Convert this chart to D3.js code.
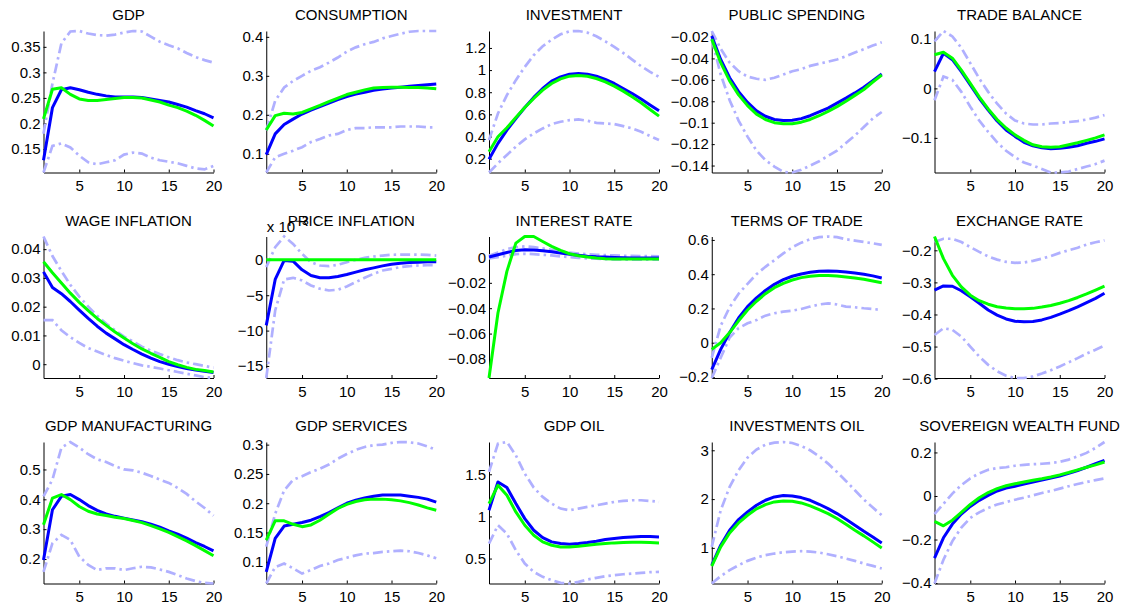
<!DOCTYPE html>
<html>
<head>
<meta charset="utf-8">
<script src="https://cdn.jsdelivr.net/npm/d3@7"></script>
<style>
  body { margin: 0; background: #fff; }
  svg { display: block; }
  text { font-family: "Liberation Sans", Arial, Helvetica, sans-serif; font-size: 15px; fill: #000; }
</style>
</head>
<body>
<svg id="chart" width="1131" height="607"></svg>
<script>
// Impulse responses over a 20-quarter horizon
const horizons = d3.range(1, 21);

const titles = [
  "GDP", "CONSUMPTION", "INVESTMENT", "PUBLIC SPENDING", "TRADE BALANCE",
  "WAGE INFLATION", "PRICE INFLATION", "INTEREST RATE", "TERMS OF TRADE", "EXCHANGE RATE",
  "GDP MANUFACTURING", "GDP SERVICES", "GDP OIL", "INVESTMENTS OIL", "SOVEREIGN WEALTH FUND"
];

const xTicks = [5, 10, 15, 20];

const yTicks = [
  [0.15, 0.2, 0.25, 0.3, 0.35],
  [0.1, 0.2, 0.3, 0.4],
  [0.2, 0.4, 0.6, 0.8, 1, 1.2],
  [-0.14, -0.12, -0.1, -0.08, -0.06, -0.04, -0.02],
  [-0.1, 0, 0.1],
  [0, 0.01, 0.02, 0.03, 0.04],
  [-0.015, -0.01, -0.005, 0],
  [-0.08, -0.06, -0.04, -0.02, 0],
  [-0.2, 0, 0.2, 0.4, 0.6],
  [-0.6, -0.5, -0.4, -0.3, -0.2],
  [0.2, 0.3, 0.4, 0.5],
  [0.1, 0.15, 0.2, 0.25, 0.3],
  [0.5, 1, 1.5],
  [1, 2, 3],
  [-0.4, -0.2, 0, 0.2]
];

// power of ten factored out of the tick labels (0 = none)
const tickExponent = [0, 0, 0, 0, 0, 0, -3, 0, 0, 0, 0, 0, 0, 0, 0];

// median response of the estimated model (blue)
const median = [
  [0.128,0.231,0.266,0.270,0.266,0.261,0.257,0.254,0.252,0.252,0.252,0.251,0.248,0.245,0.242,0.237,0.232,0.225,0.219,0.211],
  [0.098,0.151,0.175,0.189,0.202,0.212,0.221,0.230,0.239,0.247,0.253,0.258,0.263,0.266,0.269,0.271,0.273,0.275,0.277,0.279],
  [0.194,0.338,0.458,0.563,0.662,0.753,0.834,0.900,0.939,0.963,0.969,0.963,0.945,0.915,0.879,0.834,0.789,0.738,0.684,0.632],
  [-0.019,-0.041,-0.058,-0.071,-0.081,-0.089,-0.094,-0.097,-0.098,-0.0978,-0.0962,-0.0935,-0.090,-0.0864,-0.0817,-0.0771,-0.0722,-0.0669,-0.0607,-0.0546],
  [0.034,0.071,0.058,0.034,0.007,-0.020,-0.044,-0.066,-0.084,-0.097,-0.109,-0.116,-0.120,-0.122,-0.121,-0.119,-0.116,-0.111,-0.107,-0.102],
  [0.0321,0.0267,0.0245,0.0218,0.0188,0.0159,0.0132,0.0108,0.0088,0.0068,0.0051,0.0035,0.0021,0.0009,0.0000,-0.0008,-0.0015,-0.0020,-0.0025,-0.0029],
  [-0.00926,-0.00277,-0.00009,-0.00019,-0.00141,-0.00221,-0.00254,-0.00254,-0.00235,-0.00207,-0.00174,-0.00141,-0.00113,-0.00085,-0.00061,-0.00047,-0.00038,-0.00033,-0.00028,-0.00028],
  [0.0003,0.0021,0.0039,0.0055,0.0060,0.0058,0.0052,0.0045,0.0034,0.0026,0.0018,0.0010,0.0005,0.0003,0.0000,-0.0003,-0.0005,-0.0005,-0.0005,-0.0005],
  [-0.157,-0.039,0.059,0.144,0.211,0.262,0.305,0.341,0.368,0.388,0.401,0.411,0.417,0.419,0.417,0.413,0.407,0.400,0.390,0.378],
  [-0.324,-0.311,-0.312,-0.326,-0.345,-0.365,-0.386,-0.402,-0.414,-0.421,-0.423,-0.422,-0.417,-0.409,-0.399,-0.388,-0.376,-0.363,-0.350,-0.334],
  [0.197,0.365,0.410,0.416,0.399,0.379,0.363,0.351,0.343,0.337,0.331,0.325,0.317,0.307,0.294,0.283,0.270,0.255,0.242,0.227],
  [0.083,0.140,0.161,0.164,0.167,0.171,0.177,0.184,0.192,0.200,0.205,0.209,0.212,0.214,0.214,0.214,0.212,0.210,0.207,0.202],
  [1.073,1.409,1.342,1.152,0.974,0.836,0.749,0.698,0.678,0.670,0.678,0.690,0.706,0.725,0.737,0.749,0.757,0.761,0.761,0.757],
  [0.645,1.055,1.362,1.580,1.737,1.874,1.976,2.044,2.072,2.065,2.031,1.976,1.894,1.805,1.703,1.587,1.464,1.341,1.225,1.102],
  [-0.285,-0.192,-0.129,-0.083,-0.048,-0.020,0.003,0.023,0.036,0.045,0.055,0.064,0.073,0.083,0.092,0.104,0.117,0.132,0.148,0.164]
];

// response under the alternative specification (green)
const alternative = [
  [0.209,0.267,0.270,0.257,0.248,0.245,0.245,0.247,0.249,0.251,0.251,0.250,0.246,0.242,0.236,0.231,0.224,0.216,0.206,0.195],
  [0.161,0.198,0.204,0.202,0.206,0.215,0.224,0.234,0.243,0.252,0.258,0.264,0.269,0.270,0.271,0.271,0.270,0.270,0.269,0.267],
  [0.263,0.398,0.479,0.572,0.662,0.744,0.819,0.879,0.921,0.945,0.951,0.945,0.924,0.894,0.855,0.810,0.759,0.705,0.644,0.584],
  [-0.022,-0.044,-0.061,-0.074,-0.084,-0.092,-0.097,-0.100,-0.101,-0.101,-0.0995,-0.097,-0.0935,-0.0895,-0.085,-0.080,-0.0745,-0.069,-0.062,-0.0555],
  [0.068,0.073,0.061,0.037,0.010,-0.017,-0.0415,-0.063,-0.080,-0.094,-0.105,-0.114,-0.118,-0.119,-0.118,-0.114,-0.110,-0.105,-0.100,-0.094],
  [0.0356,0.0318,0.0282,0.0247,0.0215,0.0186,0.0159,0.0135,0.0112,0.0091,0.0071,0.0053,0.0038,0.0024,0.0009,-0.0002,-0.0011,-0.0018,-0.0022,-0.0027],
  [0.00003,0.00003,0.00002,0.00002,0.00002,0.00001,0.00001,0.00001,0.00001,0.00001,0,0,0,0,0,0,0,0,0,0],
  [-0.0950,-0.0438,-0.0110,0.0113,0.0165,0.0165,0.0126,0.0087,0.0055,0.0029,0.0013,0.0003,-0.0005,-0.0010,-0.0013,-0.0013,-0.0013,-0.0013,-0.0013,-0.0013],
  [-0.039,0.000,0.059,0.128,0.191,0.242,0.286,0.321,0.346,0.366,0.380,0.388,0.392,0.392,0.390,0.384,0.378,0.370,0.360,0.350],
  [-0.157,-0.226,-0.278,-0.314,-0.340,-0.357,-0.368,-0.376,-0.380,-0.382,-0.382,-0.381,-0.377,-0.372,-0.365,-0.357,-0.347,-0.336,-0.324,-0.312],
  [0.315,0.404,0.416,0.399,0.376,0.360,0.351,0.346,0.340,0.336,0.329,0.322,0.312,0.301,0.289,0.275,0.261,0.245,0.228,0.211],
  [0.137,0.170,0.170,0.164,0.160,0.163,0.171,0.181,0.191,0.198,0.203,0.206,0.207,0.207,0.206,0.204,0.201,0.197,0.192,0.188],
  [1.152,1.370,1.251,1.053,0.895,0.777,0.698,0.658,0.638,0.638,0.646,0.658,0.670,0.678,0.686,0.690,0.694,0.694,0.690,0.686],
  [0.625,1.020,1.307,1.512,1.669,1.799,1.887,1.942,1.962,1.956,1.921,1.860,1.785,1.703,1.601,1.485,1.362,1.246,1.123,1.000],
  [-0.117,-0.137,-0.111,-0.075,-0.039,-0.008,0.016,0.034,0.047,0.056,0.064,0.072,0.079,0.087,0.097,0.108,0.120,0.132,0.143,0.156]
];

// upper and lower bounds of the credible band (light blue, dash-dot)
const bandUpper = [
  [0.180,0.278,0.357,0.380,0.381,0.376,0.373,0.372,0.374,0.378,0.381,0.380,0.370,0.360,0.353,0.347,0.338,0.330,0.324,0.319],
  [0.160,0.236,0.270,0.287,0.300,0.313,0.322,0.334,0.347,0.362,0.373,0.381,0.387,0.396,0.402,0.408,0.413,0.415,0.415,0.415],
  [0.368,0.608,0.774,0.909,1.029,1.134,1.215,1.275,1.323,1.350,1.353,1.338,1.305,1.260,1.209,1.155,1.095,1.035,0.984,0.939],
  [-0.0144,-0.031,-0.044,-0.052,-0.057,-0.059,-0.060,-0.058,-0.055,-0.052,-0.050,-0.047,-0.045,-0.043,-0.041,-0.038,-0.0345,-0.0314,-0.028,-0.025],
  [0.095,0.116,0.105,0.082,0.051,0.020,-0.007,-0.031,-0.051,-0.065,-0.071,-0.073,-0.073,-0.071,-0.070,-0.068,-0.066,-0.063,-0.059,-0.054],
  [0.0444,0.0376,0.0324,0.0276,0.0235,0.0200,0.0168,0.0141,0.0118,0.0096,0.0079,0.0061,0.0047,0.0035,0.0024,0.0014,0.0006,0.0000,-0.0006,-0.0012],
  [-0.00103,0.00179,0.00330,0.00226,0.00085,-0.00033,-0.00080,-0.00089,-0.00071,-0.00033,0.00000,0.00028,0.00047,0.00061,0.00071,0.00075,0.00075,0.00075,0.00071,0.00061],
  [0.0013,0.0039,0.0066,0.0081,0.0087,0.0081,0.0071,0.0060,0.0047,0.0039,0.0031,0.0026,0.0021,0.0018,0.0016,0.0013,0.0013,0.0010,0.0010,0.0008],
  [-0.088,0.099,0.207,0.286,0.344,0.400,0.443,0.482,0.521,0.557,0.584,0.604,0.616,0.620,0.616,0.604,0.596,0.588,0.580,0.571],
  [-0.174,-0.164,-0.164,-0.174,-0.190,-0.205,-0.219,-0.229,-0.236,-0.239,-0.238,-0.233,-0.226,-0.218,-0.208,-0.200,-0.192,-0.182,-0.175,-0.169],
  [0.410,0.466,0.573,0.592,0.573,0.551,0.534,0.525,0.511,0.500,0.497,0.489,0.478,0.466,0.455,0.438,0.418,0.393,0.371,0.345],
  [0.126,0.182,0.222,0.240,0.246,0.253,0.259,0.266,0.276,0.284,0.291,0.296,0.299,0.300,0.303,0.3045,0.304,0.302,0.297,0.291],
  [1.528,1.864,1.883,1.725,1.508,1.342,1.231,1.152,1.093,1.073,1.093,1.113,1.132,1.152,1.172,1.184,1.192,1.192,1.184,1.172],
  [1.020,1.771,2.249,2.590,2.850,3.014,3.116,3.157,3.170,3.150,3.089,3.000,2.877,2.727,2.556,2.372,2.181,1.990,1.826,1.669],
  [-0.083,-0.036,0.011,0.050,0.081,0.104,0.120,0.128,0.132,0.139,0.143,0.146,0.148,0.151,0.157,0.167,0.182,0.198,0.221,0.248]
];

const bandLower = [
  [0.104,0.156,0.161,0.153,0.137,0.124,0.120,0.124,0.128,0.139,0.143,0.141,0.133,0.128,0.125,0.122,0.117,0.112,0.110,0.117],
  [0.052,0.091,0.100,0.108,0.117,0.130,0.138,0.147,0.151,0.161,0.166,0.166,0.168,0.168,0.168,0.170,0.170,0.170,0.168,0.168],
  [0.075,0.158,0.233,0.308,0.374,0.428,0.473,0.512,0.533,0.548,0.554,0.542,0.524,0.518,0.512,0.494,0.473,0.443,0.404,0.368],
  [-0.022,-0.055,-0.079,-0.098,-0.113,-0.126,-0.135,-0.141,-0.146,-0.1465,-0.144,-0.140,-0.136,-0.131,-0.126,-0.119,-0.112,-0.104,-0.096,-0.090],
  [-0.024,0.024,0.017,-0.007,-0.037,-0.065,-0.088,-0.109,-0.126,-0.139,-0.150,-0.156,-0.163,-0.170,-0.170,-0.168,-0.163,-0.158,-0.153,-0.146],
  [0.0153,0.0153,0.0118,0.0094,0.0074,0.0056,0.0044,0.0032,0.0021,0.0012,0.0004,-0.0004,-0.0009,-0.0015,-0.0021,-0.0027,-0.0033,-0.0039,-0.0045,-0.0048],
  [-0.0167,-0.00715,-0.00277,-0.00254,-0.00291,-0.00362,-0.00409,-0.00433,-0.00423,-0.00376,-0.00315,-0.00254,-0.00197,-0.00150,-0.00127,-0.00103,-0.00089,-0.00080,-0.00075,-0.00075],
  [-0.0008,0.0003,0.0013,0.0026,0.0029,0.0026,0.0021,0.0016,0.0008,0.0003,-0.0003,-0.0008,-0.0010,-0.0013,-0.0016,-0.0016,-0.0018,-0.0018,-0.0018,-0.0018],
  [-0.206,-0.088,0.030,0.085,0.113,0.132,0.158,0.172,0.181,0.187,0.197,0.211,0.223,0.230,0.223,0.211,0.207,0.201,0.197,0.191],
  [-0.464,-0.443,-0.448,-0.469,-0.500,-0.531,-0.557,-0.577,-0.591,-0.598,-0.598,-0.593,-0.584,-0.574,-0.562,-0.549,-0.536,-0.522,-0.510,-0.497],
  [0.157,0.253,0.281,0.264,0.208,0.180,0.163,0.169,0.169,0.163,0.169,0.174,0.172,0.165,0.157,0.146,0.135,0.126,0.120,0.118],
  [0.063,0.091,0.097,0.089,0.080,0.086,0.093,0.097,0.103,0.107,0.111,0.114,0.115,0.117,0.118,0.119,0.118,0.115,0.111,0.106],
  [0.678,0.895,0.796,0.599,0.441,0.342,0.283,0.243,0.211,0.204,0.223,0.251,0.271,0.290,0.302,0.314,0.322,0.330,0.338,0.342],
  [0.270,0.420,0.543,0.645,0.734,0.802,0.850,0.884,0.911,0.925,0.932,0.925,0.904,0.870,0.829,0.782,0.734,0.679,0.631,0.577],
  [-0.402,-0.293,-0.207,-0.145,-0.101,-0.075,-0.055,-0.039,-0.028,-0.017,-0.008,0.003,0.014,0.023,0.034,0.045,0.055,0.064,0.073,0.081]
];

// ---- layout: 3 x 5 grid of small axes ----
const svg = d3.select("#chart");
const plotW = 170, plotH = 141.5;
const colLeft = c => 43.5 + c * 222.75;
const rowTop = [31, 236.5, 442];

const fmt = d3.format("~g");

titles.forEach((title, i) => {
  const col = i % 5, row = Math.floor(i / 5);
  const g = svg.append("g").attr("transform", `translate(${colLeft(col)},${rowTop[row]})`);

  const series = [bandLower[i], bandUpper[i], median[i], alternative[i]];
  const x = d3.scaleLinear().domain([1, 20]).range([0, plotW]);
  const y = d3.scaleLinear().domain(d3.extent(series.flat())).range([plotH, 0]);

  const scale = Math.pow(10, -tickExponent[i]);
  const yAxis = d3.axisLeft(y).tickValues(yTicks[i])
    .tickFormat(v => fmt(+(v * scale).toFixed(6)))
    .tickSizeInner(-3).tickSizeOuter(0).tickPadding(3);
  const xAxis = d3.axisBottom(x).tickValues(xTicks)
    .tickFormat(d3.format("d"))
    .tickSizeInner(-3).tickSizeOuter(0).tickPadding(8);

  const ya = g.append("g").call(yAxis);
  const xa = g.append("g").attr("transform", `translate(0,${plotH})`).call(xAxis);
  [ya, xa].forEach(a => {
    a.attr("font-family", null).attr("font-size", null);
    a.selectAll("path, line").attr("stroke", "#000");
    a.selectAll("text").attr("fill", "#000");
  });

  const line = d3.line().x((d, j) => x(horizons[j])).y(d => y(d));

  // credible band
  [bandLower[i], bandUpper[i]].forEach(b => {
    g.append("path").attr("d", line(b))
      .attr("fill", "none").attr("stroke", "#b0b0ff")
      .attr("stroke-width", 2.7).attr("stroke-dasharray", "10,4,2.5,4");
  });
  g.append("path").attr("d", line(median[i]))
    .attr("fill", "none").attr("stroke", "#0000ff")
    .attr("stroke-width", 3).attr("stroke-linejoin", "round");
  g.append("path").attr("d", line(alternative[i]))
    .attr("fill", "none").attr("stroke", "#00ff00")
    .attr("stroke-width", 3).attr("stroke-linejoin", "round");

  if (tickExponent[i] !== 0) {
    const t = g.append("text").attr("x", 0.5).attr("y", -5);
    t.append("tspan").text("x 10");
    t.append("tspan").attr("dy", -6.5).attr("font-size", "12px")
      .text(fmt(tickExponent[i]));
  }

  g.append("text")
    .attr("x", plotW / 2).attr("y", -11)
    .attr("text-anchor", "middle")
    .text(title);
});
</script>
</body>
</html>
